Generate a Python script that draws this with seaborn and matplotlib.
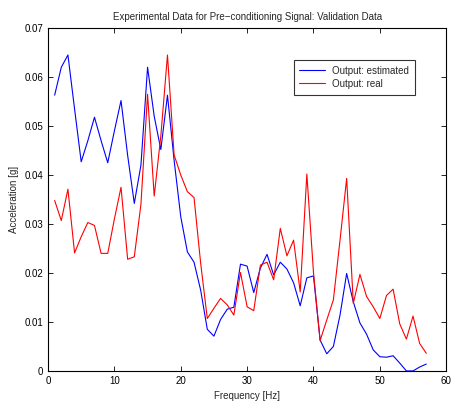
import numpy as np
import pandas as pd
import seaborn as sns
import matplotlib
matplotlib.use("Agg")
import matplotlib.pyplot as plt
from matplotlib.ticker import FuncFormatter

freq = list(range(1, 58))

estimated = [0.0563, 0.062, 0.0645, 0.0535, 0.0427, 0.047, 0.0518, 0.047, 0.0425, 0.049,
             0.0552, 0.044, 0.0342, 0.042, 0.062, 0.052, 0.0452, 0.0563, 0.043, 0.0315,
             0.0243, 0.0222, 0.0165, 0.0085, 0.0071, 0.0105, 0.0126, 0.013, 0.0218, 0.0214,
             0.016, 0.021, 0.0238, 0.0196, 0.0222, 0.0208, 0.018, 0.0133, 0.019, 0.0194,
             0.0063, 0.0035, 0.005, 0.0114, 0.0199, 0.0141, 0.0098, 0.0075, 0.0043, 0.0029,
             0.0028, 0.0031, 0.0016, 0.0, 0.0, 0.0008, 0.0014]

real = [0.0348, 0.0307, 0.0371, 0.0241, 0.0274, 0.0303, 0.0297, 0.024, 0.024, 0.031,
        0.0375, 0.0228, 0.0233, 0.034, 0.0565, 0.0357, 0.048, 0.0645, 0.0441, 0.040,
        0.0366, 0.0354, 0.022, 0.0107, 0.0128, 0.0148, 0.0135, 0.0114, 0.0201, 0.0131,
        0.0123, 0.0216, 0.0222, 0.0186, 0.0291, 0.0235, 0.0267, 0.0161, 0.0402, 0.0201,
        0.0062, 0.0104, 0.0145, 0.0267, 0.0393, 0.0138, 0.0197, 0.0152, 0.0131, 0.0107,
        0.0154, 0.0167, 0.0096, 0.0065, 0.0112, 0.0056, 0.0036]

series_names = ["Output: estimated", "Output: real"]
series_colors = ["#0000ff", "#ff0000"]

df = pd.DataFrame({
    "Frequency": freq * 2,
    "Acceleration": estimated + real,
    "Series": [series_names[0]] * len(freq) + [series_names[1]] * len(freq),
})

sns.set_style("ticks")
plt.rcParams['font.family'] = ['Liberation Sans', 'DejaVu Sans']

fig = plt.figure(figsize=(4.53, 4.01), dpi=100)
ax = fig.add_axes([0.106, 0.075, 0.879, 0.855])

sns.lineplot(data=df, x="Frequency", y="Acceleration", hue="Series",
             palette=dict(zip(series_names, series_colors)),
             linewidth=0.8, ax=ax, legend=True)

ax.set_xlim(0, 60)
ax.set_ylim(0, 0.07)
ax.set_xticks(np.arange(0, 61, 10))
ax.set_yticks(np.arange(0, 0.0701, 0.01))
ax.yaxis.set_major_formatter(FuncFormatter(lambda v, p: "0" if abs(v) < 1e-9 else f"{v:.2f}"))

for side in ["top", "right", "left", "bottom"]:
    ax.spines[side].set_visible(True)
    ax.spines[side].set_linewidth(0.8)
    ax.spines[side].set_color("black")

ax.tick_params(direction="in", length=3.5, width=0.6, labelsize=7,
               top=True, right=True, colors="black")

ax.set_xlabel("Frequency [Hz]", fontsize=7)
ax.set_ylabel("Acceleration [g]", fontsize=7)
ax.set_title("Experimental Data for Pre\u2212conditioning Signal: Validation Data", fontsize=7)

leg = ax.legend(loc="upper right", bbox_to_anchor=(0.922, 0.907), borderaxespad=0,
                fontsize=7, frameon=True, fancybox=False, handlelength=2.6,
                borderpad=0.6, labelspacing=0.3)
leg.get_frame().set_edgecolor("black")
leg.get_frame().set_linewidth(0.8)

fig.savefig("out.png", dpi=100)
